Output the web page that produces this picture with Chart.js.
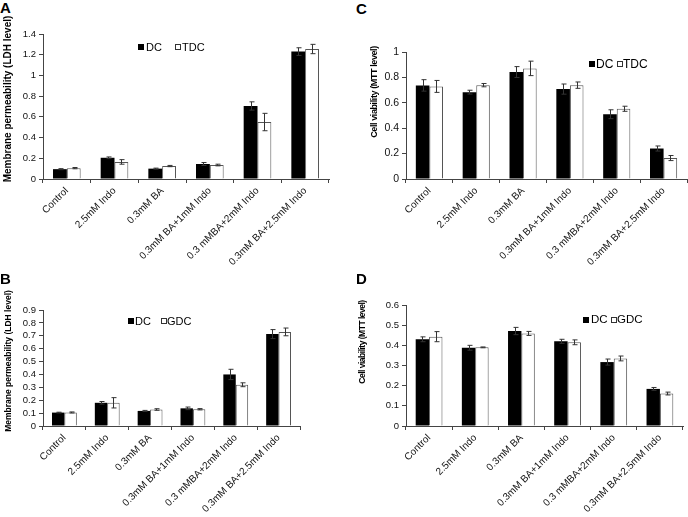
<!DOCTYPE html>
<html><head><meta charset="utf-8">
<script src="https://cdn.jsdelivr.net/npm/chart.js@4.4.1/dist/chart.umd.min.js"></script>
<style>
body{margin:0;background:#fff;width:688px;height:517px;position:relative;overflow:hidden;font-family:"Liberation Sans",Arial,sans-serif;}
canvas{position:absolute;}
.t{position:absolute;white-space:nowrap;color:#000;line-height:1;}
.letter{font-weight:bold;font-size:15px;}
.ytitle{font-weight:bold;transform:translate(-50%,-50%) rotate(-90deg);}
.sq{position:absolute;width:6px;height:6px;box-sizing:border-box;}
</style></head><body>
<canvas id="cA" width="344" height="245" style="left:0;top:20px"></canvas>
<canvas id="cC" width="344" height="245" style="left:344px;top:20px"></canvas>
<canvas id="cB" width="344" height="232" style="left:0;top:285px"></canvas>
<canvas id="cD" width="344" height="232" style="left:344px;top:285px"></canvas>
<div class="t letter" style="left:0;top:0">A</div>
<div class="t letter" style="left:356px;top:1px">C</div>
<div class="t letter" style="left:0;top:271px">B</div>
<div class="t letter" style="left:356px;top:271px">D</div>
<script>
// ---------- data ----------
const categories = ['Control','2.5mM Indo','0.3mM BA','0.3mM BA+1mM Indo','0.3 mMBA+2mM Indo','0.3mM BA+2.5mM Indo'];
const seriesNamesAC = ['DC','TDC'];
const seriesNamesBD = ['DC','GDC'];
const titleLDH = 'Membrane permeability (LDH level)';
const titleMTT = 'Cell viability (MTT level)';

// Panel A: LDH, DC vs TDC
const ldhDC_A  = [0.095, 0.205, 0.100, 0.145, 0.705, 1.230];
const ldhDC_A_err  = [0.005, 0.008, 0.005, 0.014, 0.040, 0.037];
const ldhTDC_A = [0.105, 0.165, 0.125, 0.135, 0.550, 1.255];
const ldhTDC_A_err = [0.006, 0.022, 0.006, 0.008, 0.084, 0.045];

// Panel C: MTT, DC vs TDC
const mttDC_C  = [0.737, 0.684, 0.842, 0.708, 0.510, 0.240];
const mttDC_C_err  = [0.045, 0.015, 0.043, 0.040, 0.035, 0.020];
const mttTDC_C = [0.729, 0.739, 0.871, 0.739, 0.553, 0.165];
const mttTDC_C_err = [0.047, 0.013, 0.057, 0.025, 0.020, 0.020];

// Panel B: LDH, DC vs GDC
const ldhDC_B  = [0.104, 0.180, 0.117, 0.137, 0.400, 0.713];
const ldhDC_B_err  = [0.003, 0.010, 0.004, 0.010, 0.040, 0.035];
const ldhGDC_B = [0.105, 0.180, 0.128, 0.130, 0.320, 0.730];
const ldhGDC_B_err = [0.004, 0.040, 0.006, 0.005, 0.015, 0.030];

// Panel D: MTT, DC vs GDC
const mttDC_D  = [0.430, 0.388, 0.471, 0.420, 0.317, 0.184];
const mttDC_D_err  = [0.012, 0.012, 0.018, 0.010, 0.015, 0.007];
const mttGDC_D = [0.443, 0.390, 0.459, 0.415, 0.335, 0.161];
const mttGDC_D_err = [0.025, 0.002, 0.010, 0.012, 0.012, 0.007];

// ---------- rendering ----------
const FONT = '"Liberation Sans", Arial, sans-serif';

const errorBarPlugin = {
  id: 'errorBars',
  afterDatasetsDraw(chart) {
    const ctx = chart.ctx, ys = chart.scales.y;
    ctx.save();
    ctx.strokeStyle = '#333';
    ctx.lineWidth = 1;
    chart.data.datasets.forEach((ds, di) => {
      const meta = chart.getDatasetMeta(di);
      meta.data.forEach((bar, i) => {
        const v = ds.data[i], e = ds.errors[i];
        const x = Math.round(bar.x) + 0.5;
        const y1 = ys.getPixelForValue(v + e), y2 = ys.getPixelForValue(v - e);
        ctx.beginPath();
        ctx.moveTo(x, y1); ctx.lineTo(x, y2);
        ctx.moveTo(x - 2, y1); ctx.lineTo(x + 3, y1);
        ctx.moveTo(x - 2, y2); ctx.lineTo(x + 3, y2);
        ctx.stroke();
      });
    });
    ctx.restore();
  }
};

function makePanel(id, names, d1, e1, d2, e2, yMax, yStep, tickSize, box) {
  return new Chart(document.getElementById(id), {
    type: 'bar',
    data: {
      labels: categories,
      datasets: [
        {label: names[0], data: d1, errors: e1, backgroundColor: '#000', borderColor: '#000', borderWidth: 0,
         categoryPercentage: 0.58, barPercentage: 1},
        {label: names[1], data: d2, errors: e2, backgroundColor: '#fff', borderColor: '#555', borderWidth: 1,
         categoryPercentage: 0.58, barPercentage: 1}
      ]
    },
    options: {
      responsive: false, animation: false, devicePixelRatio: 1,
      layout: {padding: {top: box.padTop, right: box.padRight, left: 0, bottom: 0}},
      plugins: {legend: {display: false}, tooltip: {enabled: false}},
      scales: {
        x: {
          grid: {offset: true, drawOnChartArea: false, drawTicks: true, tickLength: 4, color: '#444'},
          border: {color: '#444'},
          ticks: {minRotation: 45, maxRotation: 45, autoSkip: false, color: '#111', padding: 2,
                  font: {family: FONT, size: 10}},
          afterFit(s) { s.height = box.xHeight; }
        },
        y: {
          min: 0, max: yMax,
          grid: {drawOnChartArea: false, tickLength: 4, color: '#444'},
          border: {color: '#444'},
          ticks: {stepSize: yStep, autoSkip: false, color: '#111', padding: 3, font: {family: FONT, size: tickSize},
                  callback: v => String(+v.toFixed(1))},
          afterFit(s) { s.width = box.yWidth; }
        }
      }
    },
    plugins: [errorBarPlugin]
  });
}

makePanel('cA', seriesNamesAC, ldhDC_A, ldhDC_A_err, ldhTDC_A, ldhTDC_A_err, 1.4, 0.2, 9.5,
  {padTop: 14, padRight: 15, yWidth: 43, xHeight: 86});
makePanel('cC', seriesNamesAC, mttDC_C, mttDC_C_err, mttTDC_C, mttTDC_C_err, 1, 0.2, 10.5,
  {padTop: 32, padRight: 1, yWidth: 62, xHeight: 86});
makePanel('cB', seriesNamesBD, ldhDC_B, ldhDC_B_err, ldhGDC_B, ldhGDC_B_err, 0.9, 0.1, 9.5,
  {padTop: 25, padRight: 44, yWidth: 43, xHeight: 91});
makePanel('cD', seriesNamesBD, mttDC_D, mttDC_D_err, mttGDC_D, mttGDC_D_err, 0.6, 0.1, 9.5,
  {padTop: 20, padRight: 5, yWidth: 62, xHeight: 91});

// ---------- HTML titles and legends ----------
function addTitle(text, cx, cy, size, ls) {
  const d = document.createElement('div');
  d.className = 't ytitle';
  d.style.left = cx + 'px'; d.style.top = cy + 'px'; d.style.fontSize = size + 'px';
  d.style.letterSpacing = ls + 'px';
  d.textContent = text;
  document.body.appendChild(d);
}
addTitle(titleLDH, 8, 99, 10, 0);
addTitle(titleLDH, 8, 361, 8.5, 0);
addTitle(titleMTT, 374, 92, 9, -0.4);
addTitle(titleMTT, 362, 342, 8.5, -0.5);

function addLegend(names, cy, pos, size) {
  // pos: [[squareX, textX], [squareX, textX]]
  names.forEach((n, i) => {
    const s = document.createElement('div');
    s.className = 'sq';
    s.style.left = pos[i][0] + 'px'; s.style.top = (cy - 3) + 'px';
    s.style.background = i === 0 ? '#000' : '#fff';
    s.style.border = i === 0 ? 'none' : '1px solid #333';
    document.body.appendChild(s);
    const t = document.createElement('div');
    t.className = 't';
    t.style.left = pos[i][1] + 'px'; t.style.top = (cy - size / 2) + 'px'; t.style.fontSize = size + 'px';
    t.textContent = n;
    document.body.appendChild(t);
  });
}
addLegend(seriesNamesAC, 47, [[138, 146], [175, 182]], 11);
addLegend(seriesNamesAC, 64, [[589, 596], [617, 623]], 12);
addLegend(seriesNamesBD, 321, [[128, 135], [161, 167]], 11);
addLegend(seriesNamesBD, 320, [[583, 591], [611, 617]], 11.5);
</script>
</body></html>
